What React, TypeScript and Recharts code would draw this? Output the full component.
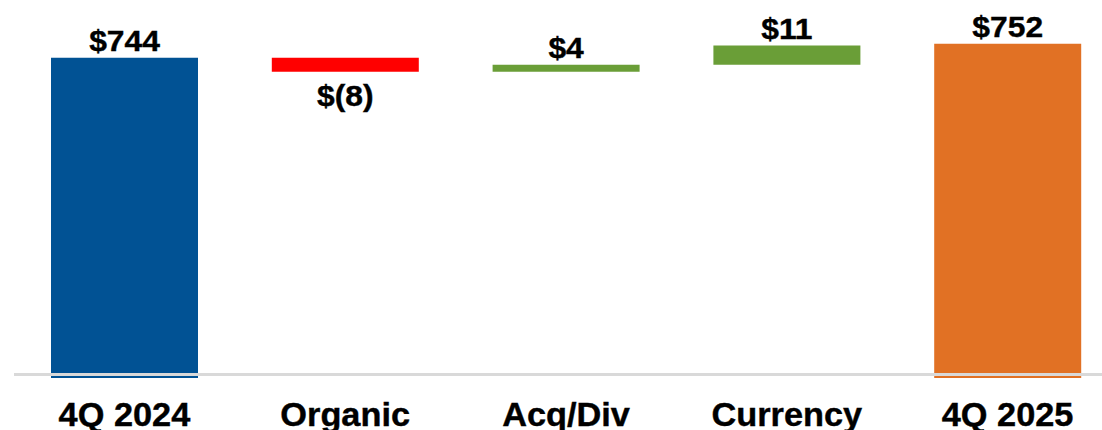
import React from 'react';
import { BarChart, Bar, XAxis, YAxis, Cell, LabelList, ReferenceLine } from 'recharts';

// Revenue bridge, $ millions
const categories = ['4Q 2024', 'Organic', 'Acq/Div', 'Currency', '4Q 2025'];
const amounts = [744, -8, 4, 11, 752];
const isTotal = [true, false, false, false, true];
const barColors = ['#015294', '#FF0000', '#6A9E37', '#6A9E37', '#E17124'];

const AXIS_MIN = 561;
const AXIS_MAX = 777;
const FONT = '"Liberation Sans", Arial, sans-serif';

const formatAmount = (v: number) => (v < 0 ? `$(${-v})` : `$${v}`);

// Build floating [low, high] ranges: totals start at zero, changes float on the running total
const rows = (() => {
  let running = 0;
  return categories.map((name, i) => {
    const v = amounts[i];
    let range: [number, number];
    if (isTotal[i]) {
      range = [0, v];
      running = v;
    } else {
      const next = running + v;
      range = [Math.min(running, next), Math.max(running, next)];
      running = next;
    }
    return { name, range, amount: v };
  });
})();

const StretchText = ({ x, y, size, stretch, children }: any) => (
  <g transform={`translate(${x},${y}) scale(${stretch},1)`}>
    <text
      x={0}
      y={0}
      textAnchor="middle"
      fontFamily={FONT}
      fontWeight={700}
      fontSize={size}
      fill="#000"
      stroke="#000"
      strokeWidth={0.4}
    >
      {children}
    </text>
  </g>
);

const BarValueLabel = (props: any) => {
  const { x, y, width, height, index } = props;
  const v = amounts[index];
  const cx = x + width / 2;
  const top = Math.min(y, y + height);
  const bottom = Math.max(y, y + height);
  const baseline = v < 0 ? bottom + 34 : top - 7;
  return (
    <StretchText x={cx} y={baseline} size={30} stretch={1.06}>
      {formatAmount(v)}
    </StretchText>
  );
};

const CategoryTick = (props: any) => {
  const { x, y, payload } = props;
  return (
    <StretchText x={x} y={y + 46} size={33} stretch={1.04}>
      {payload.value}
    </StretchText>
  );
};

export default function App() {
  return (
    <div style={{ position: 'absolute', left: 0, top: 0, width: 1102, height: 430, overflow: 'hidden', background: '#fff' }}>
      <BarChart
        width={1120}
        height={430}
        data={rows}
        margin={{ top: 0, right: 2, bottom: 0, left: 14 }}
      >
        <XAxis
          dataKey="name"
          axisLine={false}
          tickLine={false}
          tickSize={0}
          height={52}
          interval={0}
          tick={<CategoryTick />}
        />
        <YAxis hide domain={[AXIS_MIN, AXIS_MAX]} allowDataOverflow type="number" />
        <Bar dataKey="range" barSize={147} isAnimationActive={false}>
          {rows.map((r, i) => (
            <Cell key={r.name} fill={barColors[i]} />
          ))}
          <LabelList dataKey="amount" content={<BarValueLabel />} />
        </Bar>
        <ReferenceLine y={563} stroke="#D9D9D9" strokeWidth={3} />
      </BarChart>
    </div>
  );
}
